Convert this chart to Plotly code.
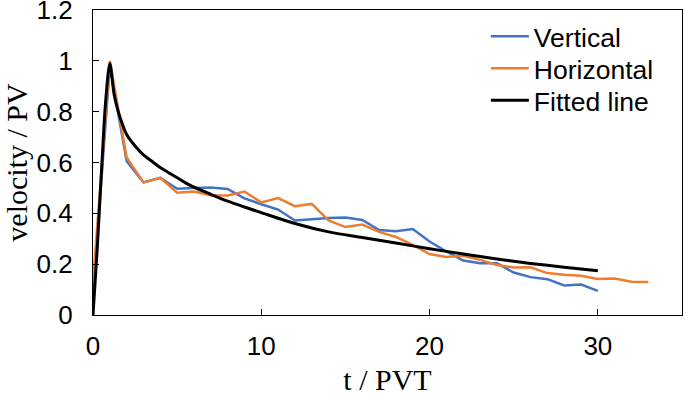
import plotly.graph_objects as go

# Measured series (t in PVT units)
t_vertical = list(range(0, 31))
v_vertical = [0.085, 0.98, 0.605, 0.522, 0.54, 0.497, 0.50, 0.502, 0.496, 0.459, 0.436,
              0.415, 0.372, 0.378, 0.382, 0.384, 0.374, 0.334, 0.330, 0.338, 0.289,
              0.250, 0.214, 0.204, 0.204, 0.167, 0.149, 0.141, 0.116, 0.120, 0.095]

t_horizontal = list(range(0, 34))
v_horizontal = [0.13, 1.0, 0.62, 0.522, 0.54, 0.481, 0.486, 0.471, 0.47, 0.486, 0.443,
                0.46, 0.428, 0.437, 0.372, 0.346, 0.356, 0.327, 0.307, 0.276, 0.240,
                0.228, 0.233, 0.217, 0.197, 0.187, 0.188, 0.165, 0.158, 0.154, 0.142,
                0.144, 0.131, 0.130]

# Fitted curve
t_fit = [0, 0.25, 0.5, 0.75, 1.0, 1.25, 1.5, 1.75, 2, 2.5, 3, 3.5, 4, 4.5, 5, 5.5,
         6, 7, 8, 9, 10, 12, 14, 16, 18, 20, 22, 24, 26, 28, 30]
v_fit = [0.0, 0.26, 0.56, 0.84, 0.99, 0.87, 0.80, 0.75, 0.71, 0.665, 0.63, 0.605,
         0.58, 0.56, 0.54, 0.52, 0.503, 0.475, 0.448, 0.425, 0.403, 0.36, 0.327,
         0.305, 0.283, 0.261, 0.240, 0.220, 0.203, 0.188, 0.174]

x_ticks = [0, 10, 20, 30]
y_ticks = [0, 0.2, 0.4, 0.6, 0.8, 1.0, 1.2]
y_tick_text = ["0", "0.2", "0.4", "0.6", "0.8", "1", "1.2"]

sans = "Arial, Liberation Sans, sans-serif"
serif = "Times New Roman, Liberation Serif, serif"
LEG_FONT = 26.5

fig = go.Figure()
fig.add_trace(go.Scatter(x=t_vertical, y=v_vertical, mode="lines", name="Vertical",
                         line=dict(color="#4472C4", width=2.5), legend="legend"))
fig.add_trace(go.Scatter(x=t_horizontal, y=v_horizontal, mode="lines", name="Horizontal",
                         line=dict(color="#ED7D31", width=2.5), legend="legend2"))
fig.add_trace(go.Scatter(x=t_fit, y=v_fit, mode="lines", name="Fitted line",
                         line=dict(color="black", width=3, shape="spline", smoothing=0.8),
                         legend="legend3"))

def leg(y):
    return dict(x=0.667, y=y, xanchor="left", yanchor="middle",
                font=dict(family=sans, size=LEG_FONT, color="black"),
                bgcolor="rgba(0,0,0,0)", itemwidth=38)

fig.update_layout(
    width=685, height=396,
    margin=dict(l=93, r=3, t=10, b=81),
    paper_bgcolor="white", plot_bgcolor="white",
    font=dict(family=sans, size=26, color="black"),
    showlegend=True,
    legend=leg(0.913),
    legend2=leg(0.808),
    legend3=leg(0.703),
    xaxis=dict(range=[0, 35], tickvals=x_ticks, ticks="inside", ticklen=6,
               tickwidth=1.3, tickcolor="black", showline=True, linecolor="black",
               linewidth=1.3, mirror=True, showgrid=False, zeroline=False,
               automargin=False,
               tickfont=dict(family=sans, size=26), ticklabelstandoff=8,
               title=dict(text="t / PVT", font=dict(family=serif, size=30), standoff=8)),
    yaxis=dict(range=[0, 1.2001], tickvals=y_ticks, ticktext=y_tick_text, ticks="inside",
               ticklen=6, tickwidth=1.3, tickcolor="black", showline=True,
               linecolor="black", linewidth=1.3, mirror=True, showgrid=False,
               zeroline=False, automargin=False, ticklabeloverflow="allow",
               tickfont=dict(family=sans, size=26), ticklabelstandoff=14,
               title=dict(text="velocity / PV", font=dict(family=serif, size=30), standoff=4)),
)

fig.write_html("out.html", config={"displayModeBar": False},
               post_script="document.body.style.margin='0';document.body.style.padding='0';")
